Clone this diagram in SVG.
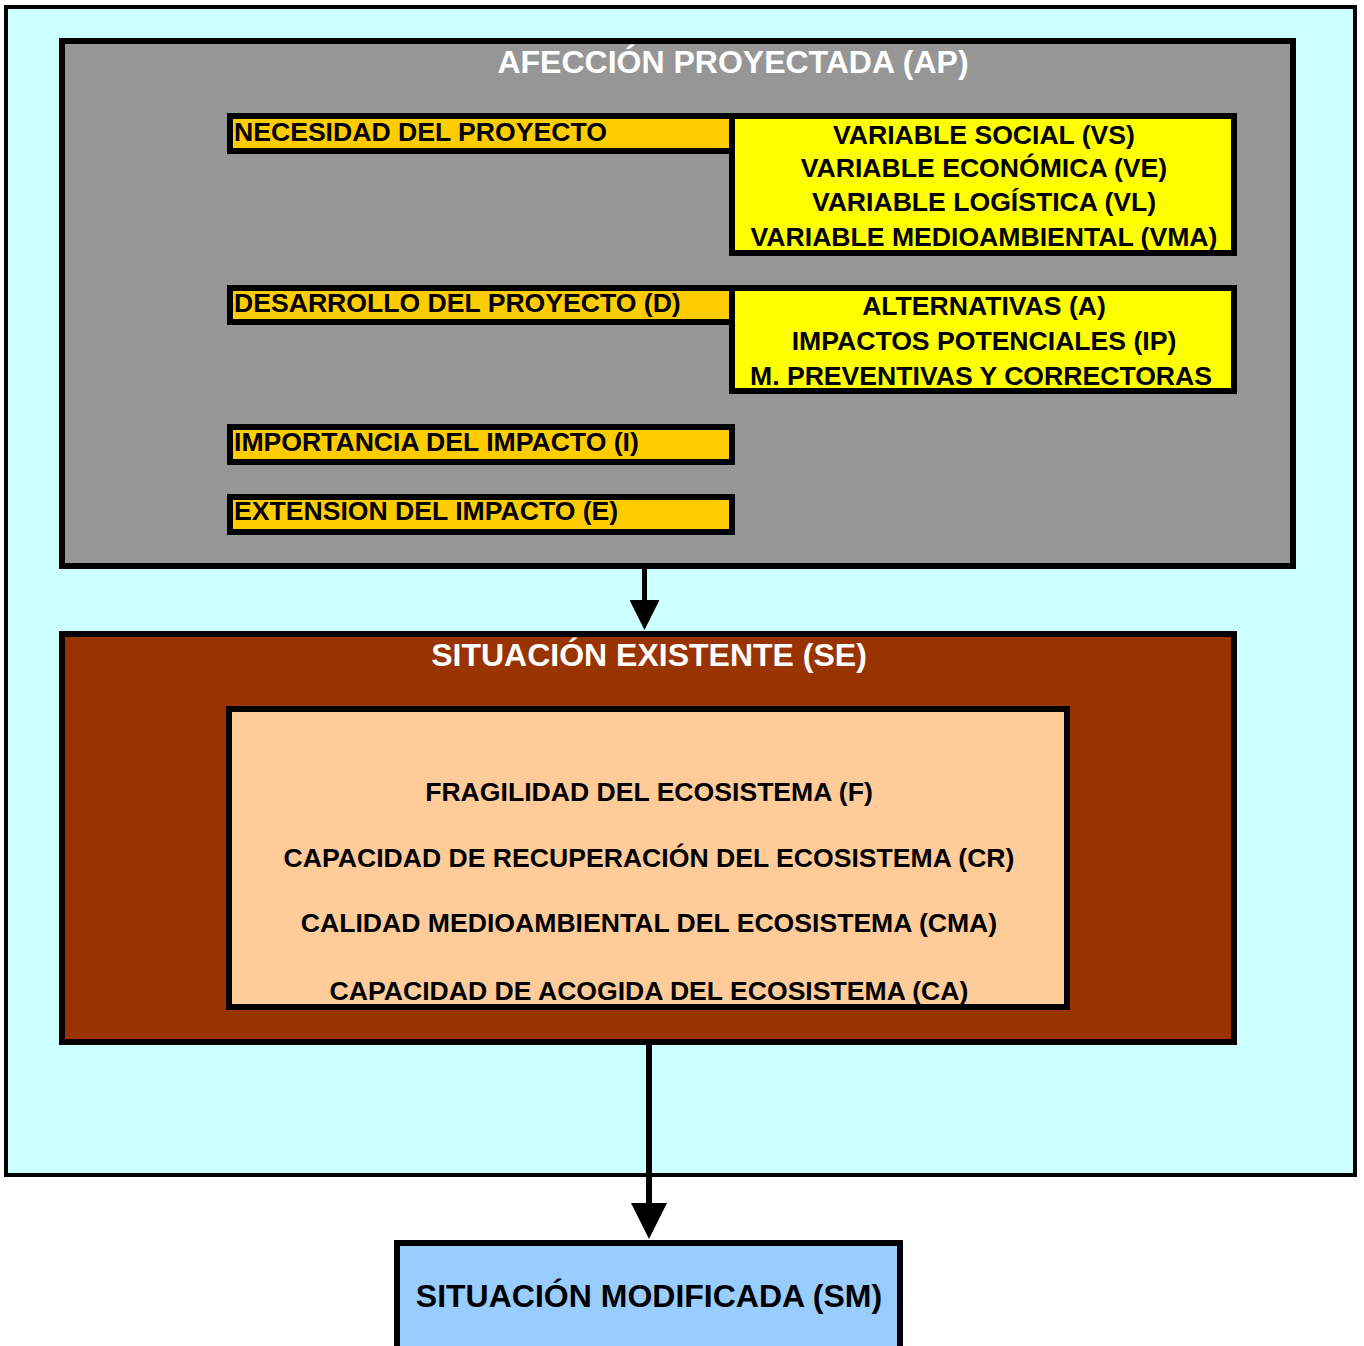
<svg xmlns="http://www.w3.org/2000/svg" width="1364" height="1346" viewBox="0 0 1364 1346">
  <style>
    .box { stroke: #000; stroke-width: 6; }
    .lbl { font-family: "Liberation Sans", Arial, sans-serif; font-weight: bold; font-size: 26.6px; fill: #000; }
    .mid { text-anchor: middle; }
    .title { font-family: "Liberation Sans", Arial, sans-serif; font-weight: bold; font-size: 32px; text-anchor: middle; }
    .link { fill: none; stroke: #000; }
  </style>
  <defs>
    <marker id="headS" markerUnits="userSpaceOnUse" markerWidth="30" markerHeight="30" refX="12" refY="15" orient="auto">
      <path d="M0,0 L30,15 L0,30 Z" fill="#000"/>
    </marker>
    <marker id="headL" markerUnits="userSpaceOnUse" markerWidth="36" markerHeight="36" refX="12" refY="18" orient="auto">
      <path d="M0,0 L36,18 L0,36 Z" fill="#000"/>
    </marker>
  </defs>

  <rect width="1364" height="1346" fill="#fff"/>

  <!-- outer frame -->
  <g id="frame">
    <rect x="6" y="7" width="1349" height="1168" fill="#CCFFFF" stroke="#000" stroke-width="4"/>
  </g>

  <!-- projected affection block -->
  <g id="ap">
    <rect class="box" x="62" y="41" width="1231" height="525" fill="#969696"/>
    <text class="title" x="733" y="73" fill="#fff">AFECCIÓN PROYECTADA (AP)</text>
  </g>

  <g id="necesidad">
    <rect class="box" x="230" y="116" width="502" height="35" fill="#FFCC00"/>
    <text class="lbl" x="234" y="141">NECESIDAD DEL PROYECTO</text>
  </g>

  <g id="variables">
    <rect class="box" x="732" y="116" width="502" height="137" fill="#FFFF00"/>
    <text class="lbl mid" x="984" y="144">VARIABLE SOCIAL (VS)</text>
    <text class="lbl mid" x="984" y="177">VARIABLE ECONÓMICA (VE)</text>
    <text class="lbl mid" x="984" y="211">VARIABLE LOGÍSTICA (VL)</text>
    <text class="lbl mid" x="984" y="246">VARIABLE MEDIOAMBIENTAL (VMA)</text>
  </g>

  <g id="desarrollo">
    <rect class="box" x="230" y="288" width="502" height="34" fill="#FFCC00"/>
    <text class="lbl" x="234" y="312">DESARROLLO DEL PROYECTO (D)</text>
  </g>

  <g id="alternativas">
    <rect class="box" x="732" y="288" width="502" height="103" fill="#FFFF00"/>
    <text class="lbl mid" x="984" y="315">ALTERNATIVAS (A)</text>
    <text class="lbl mid" x="984" y="350">IMPACTOS POTENCIALES (IP)</text>
    <text class="lbl mid" x="981" y="385">M. PREVENTIVAS Y CORRECTORAS</text>
  </g>

  <g id="importancia">
    <rect class="box" x="230" y="427" width="502" height="35" fill="#FFCC00"/>
    <text class="lbl" x="234" y="451">IMPORTANCIA DEL IMPACTO (I)</text>
  </g>

  <g id="extension">
    <rect class="box" x="230" y="497" width="502" height="35" fill="#FFCC00"/>
    <text class="lbl" x="234" y="520">EXTENSION DEL IMPACTO (E)</text>
  </g>

  <!-- existing situation block -->
  <g id="se">
    <rect class="box" x="62" y="634" width="1172" height="408" fill="#993300"/>
    <text class="title" x="649" y="666" fill="#fff">SITUACIÓN EXISTENTE (SE)</text>
  </g>

  <g id="ecosistema">
    <rect class="box" x="229" y="709" width="838" height="298" fill="#FFCC99"/>
    <text class="lbl mid" x="649" y="801">FRAGILIDAD DEL ECOSISTEMA (F)</text>
    <text class="lbl mid" x="649" y="867">CAPACIDAD DE RECUPERACIÓN DEL ECOSISTEMA (CR)</text>
    <text class="lbl mid" x="649" y="932">CALIDAD MEDIOAMBIENTAL DEL ECOSISTEMA (CMA)</text>
    <text class="lbl mid" x="649" y="1000">CAPACIDAD DE ACOGIDA DEL ECOSISTEMA (CA)</text>
  </g>

  <!-- modified situation -->
  <g id="sm">
    <rect class="box" x="397" y="1243" width="503" height="120" fill="#99CCFF"/>
    <text class="title" x="649" y="1307" fill="#000">SITUACIÓN MODIFICADA (SM)</text>
  </g>

  <!-- connectors -->
  <g id="connectors">
    <path class="link" d="M644.5,569 V612" stroke-width="5" marker-end="url(#headS)"/>
    <path class="link" d="M649,1045 V1215" stroke-width="6" marker-end="url(#headL)"/>
  </g>
</svg>
